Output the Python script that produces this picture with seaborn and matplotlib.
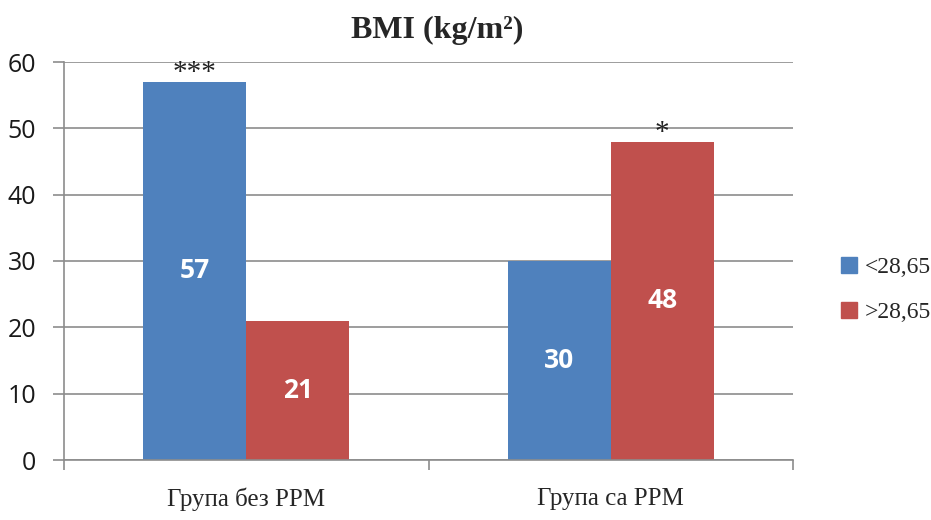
import matplotlib
matplotlib.use("Agg")
import matplotlib.pyplot as plt
import seaborn as sns
import pandas as pd
from matplotlib.ticker import FixedLocator

categories = ["Група без РРМ", "Група са РРМ"]
series = ["<28,65", ">28,65"]
values_low = [57, 30]
values_high = [21, 48]
significance = {("Група без РРМ", "<28,65"): "***", ("Група са РРМ", ">28,65"): "*"}
colors = ["#4F81BD", "#C0504D"]

df = pd.DataFrame({
    "group": categories * 2,
    "bmi": [series[0]] * 2 + [series[1]] * 2,
    "value": values_low + values_high,
})

sns.set_style("white")
fig = plt.figure(figsize=(9.31, 5.2), dpi=100)
ax = fig.add_axes([64 / 931, 1 - 460 / 520, (793 - 64) / 931, (460 - 62) / 520])

sns.barplot(data=df, x="group", y="value", hue="bmi", order=categories,
            hue_order=series, palette=colors, width=0.565, saturation=1,
            ax=ax, legend=True, edgecolor="none", linewidth=0)

ax.set_ylim(0, 60)
ax.set_xlim(-0.5, 1.5)
ax.set_yticks(range(0, 61, 10))
ax.yaxis.grid(True, color="#8C8C8C", linewidth=1.2)
ax.set_axisbelow(True)
for s in ["top", "right"]:
    ax.spines[s].set_visible(False)
ax.spines["left"].set_color("#8C8C8C")
ax.spines["bottom"].set_color("#8C8C8C")
ax.spines["left"].set_linewidth(1.2)
ax.spines["bottom"].set_linewidth(1.2)

ax.tick_params(axis="y", which="major", length=8, width=1.2, color="#8C8C8C",
               labelsize=18, pad=12, left=True, labelcolor="#1a1a1a")
for lbl in ax.get_yticklabels():
    lbl.set_fontfamily("Open Sans")
ax.tick_params(axis="x", which="major", length=0, pad=20, labelsize=18)
for lbl in ax.get_xticklabels():
    lbl.set_fontfamily("Liberation Serif")
ax.xaxis.set_minor_locator(FixedLocator([-0.5, 0.5, 1.5]))
ax.tick_params(axis="x", which="minor", length=7, width=1.2, color="#8C8C8C", bottom=True)
ax.set_xlabel("")
ax.set_ylabel("")

# bar value labels and significance marks
for container, s in zip(ax.containers, series):
    for bar, cat in zip(container, categories):
        h = bar.get_height()
        cx = bar.get_x() + bar.get_width() / 2
        ax.text(cx, h / 2, f"{int(h)}", ha="center", va="center", color="white",
                fontsize=19, fontweight="bold", fontfamily="Open Sans")
        mark = significance.get((cat, s))
        if mark:
            ax.text(cx, h - 0.6, mark, ha="center", va="bottom", color="#222222",
                    fontsize=21, fontfamily="Liberation Serif")

ax.legend_.remove()
handles = [plt.Rectangle((0, 0), 1, 1, color=c) for c in colors]
fig.legend(handles, series, loc="center left", bbox_to_anchor=(820 / 931, 1 - 290 / 520),
           frameon=False, prop={"family": "Liberation Serif", "size": 17},
           handlelength=0.65, handleheight=0.65, handletextpad=0.35, labelspacing=1.0)

fig.text(437 / 931, 1 - 30 / 520, "BMI (kg/m²)", ha="center", va="center",
         fontsize=23, fontweight="bold", fontfamily="Liberation Serif")

fig.savefig("out.png", dpi=100)
